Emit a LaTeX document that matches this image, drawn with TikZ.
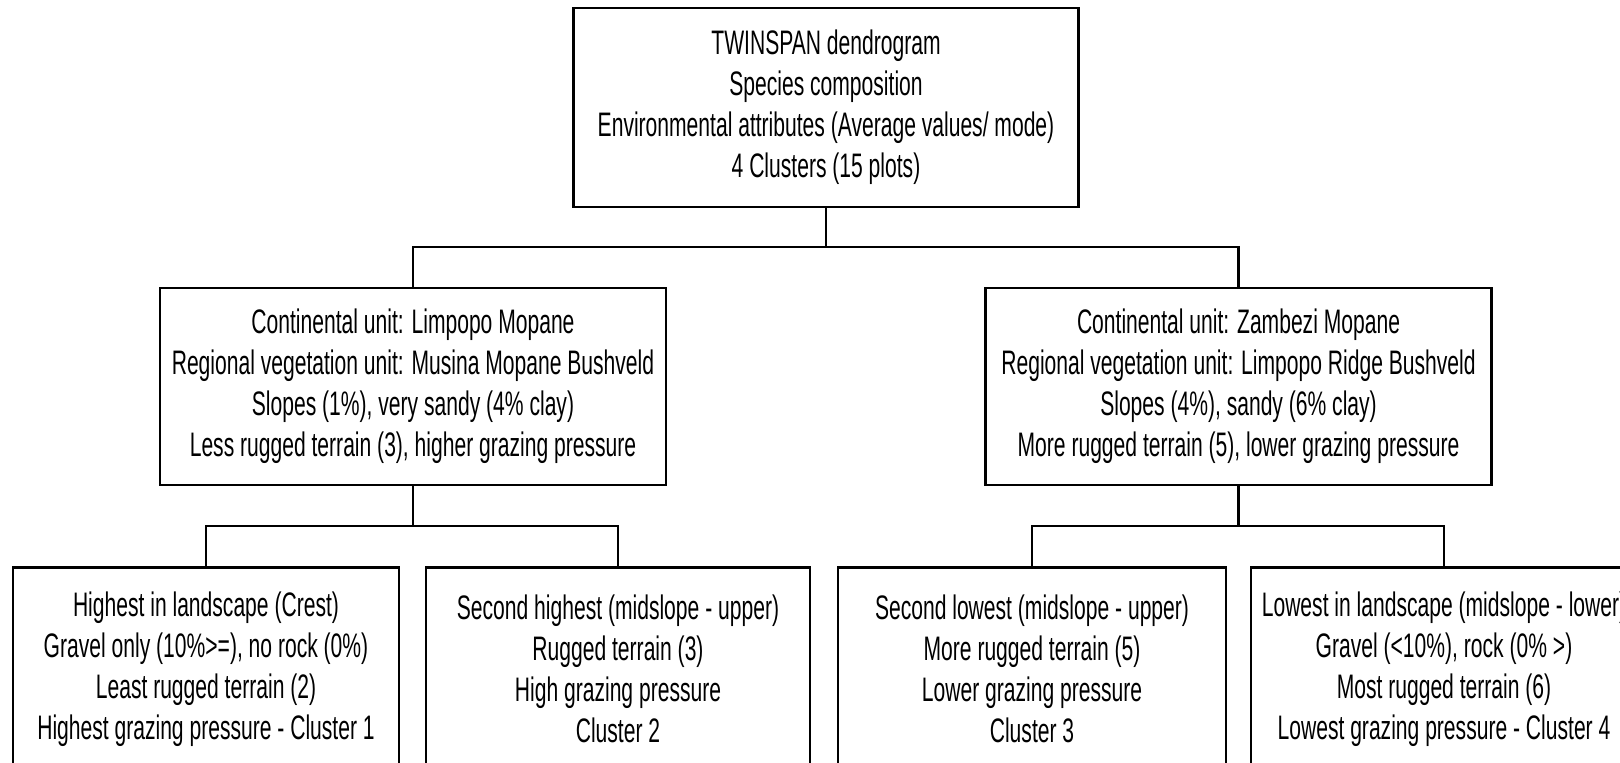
\documentclass[tikz,border=0pt]{standalone}
\usepackage{fontspec}
\setmainfont{Liberation Sans}[FakeStretch=0.62]
\begin{document}
\begin{tikzpicture}[x=0.5pt,y=-0.5pt,
  box/.style={draw, line width=1.3pt, inner sep=0pt, align=center,
    font=\fontsize{17pt}{20.5pt}\selectfont},
  link/.style={line width=1.3pt, line cap=rect}]
\useasboundingbox (0,0) rectangle (1620,763);
\clip (0,0) rectangle (1620,763);

% root
\node[box, minimum width=252.5pt, minimum height=99.5pt] (root) at (826,107.5)
  {TWINSPAN dendrogram\\Species composition\\Environmental attributes (Average values/ mode)\\4 Clusters (15 plots)};

% continental units
\node[box, minimum width=253pt, minimum height=98.5pt] (limpopo) at (413,386.5)
  {Continental unit: Limpopo Mopane\\Regional vegetation unit: Musina Mopane Bushveld\\Slopes (1\%), very sandy (4\% clay)\\Less rugged terrain (3), higher grazing pressure};
\node[box, minimum width=253pt, minimum height=98.5pt] (zambezi) at (1238.5,386.5)
  {Continental unit: Zambezi Mopane\\Regional vegetation unit: Limpopo Ridge Bushveld\\Slopes (4\%), sandy (6\% clay)\\More rugged terrain (5), lower grazing pressure};

% clusters
\node[box, minimum width=193pt, minimum height=102pt, anchor=north] (c1) at (206,566)
  {Highest in landscape (Crest)\\Gravel only (10\%>=), no rock (0\%)\\Least rugged terrain (2)\\Highest grazing pressure - Cluster 1};
\node[box, minimum width=192pt, minimum height=102pt, anchor=north] (c2) at (618,566)
  {Second highest (midslope - upper)\\Rugged terrain (3)\\High grazing pressure\\Cluster 2};
\node[box, minimum width=194pt, minimum height=102pt, anchor=north] (c3) at (1032,566)
  {Second lowest (midslope - upper)\\More rugged terrain (5)\\Lower grazing pressure\\Cluster 3};
\node[box, minimum width=193pt, minimum height=102pt, anchor=north] (c4) at (1444,566)
  {Lowest in landscape (midslope - lower)\\Gravel (<10\%), rock (0\% >)\\Most rugged terrain (6)\\Lowest grazing pressure - Cluster 4};

% junctions
\coordinate (j0) at (826,247);
\coordinate (j1) at (413,526);
\coordinate (j2) at (1238.5,526);

% connectors
\draw[link] (root.south) -- (j0);
\draw[link] (limpopo.north) |- (j0) -| (zambezi.north);
\draw[link] (limpopo.south) -- (j1);
\draw[link] (c1.north) |- (j1) -| (c2.north);
\draw[link] (zambezi.south) -- (j2);
\draw[link] (c3.north) |- (j2) -| (c4.north);
\end{tikzpicture}
\end{document}
